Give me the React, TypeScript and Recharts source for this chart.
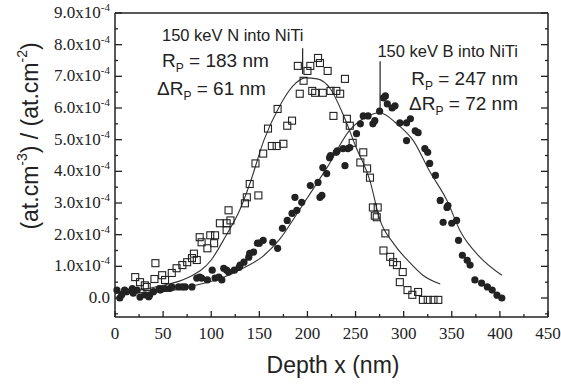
import React from "react";
import { ComposedChart, Line, ReferenceLine, Scatter, XAxis, YAxis } from "recharts";

// concentrations are in units of 1e-4 (tick labels add the x10^-4)
const nDepth = [21, 26, 31, 33, 41, 42, 49, 52, 59, 64, 70, 75, 80, 82, 85, 88, 90, 96, 99, 103, 104, 109, 116, 116, 118, 120, 135, 137, 140, 146, 149, 154, 159, 163, 168, 169, 175, 179, 184, 190, 192, 196, 200, 203, 205, 208, 211, 213, 216, 221, 224, 227, 230, 234, 239, 241, 244, 247, 255, 258, 262, 265, 268, 270, 272, 273, 279, 281, 286, 289, 293, 296, 299, 304, 309, 315, 320, 325, 331, 336];
const nConc = [0.66, 0.5, 0.4, 0.35, 0.6, 1.1, 0.72, 0.57, 0.79, 0.94, 1.04, 1.13, 1.26, 1.4, 1.2, 1.92, 1.76, 1.57, 1.98, 1.73, 1.98, 2.36, 2.36, 2.14, 2.77, 2.45, 2.99, 3.18, 3.6, 4.25, 3.24, 4.56, 5.35, 4.8, 4.8, 5.97, 4.87, 5.44, 5.6, 7.33, 6.45, 6.86, 7.17, 7.33, 6.54, 6.48, 7.58, 7.42, 6.48, 7.17, 6.54, 5.75, 6.54, 6.45, 6.92, 5.66, 5.44, 4.9, 4.28, 4.6, 4.09, 3.8, 2.86, 2.6, 2.55, 2.86, 1.5, 2.04, 1.3, 1.13, 1.04, 0.5, 0.82, 0.25, 0.1, 0.19, -0.06, -0.06, -0.06, -0.06];

const bDepth = [2, 5, 7, 10, 12, 18, 19, 23, 26, 31, 35, 36, 40, 46, 47, 52, 57, 59, 66, 70, 73, 80, 85, 88, 90, 96, 101, 104, 108, 111, 113, 116, 118, 124, 129, 130, 134, 139, 140, 144, 148, 150, 154, 164, 169, 174, 179, 184, 187, 189, 194, 203, 211, 213, 215, 216, 220, 223, 224, 230, 231, 237, 239, 242, 244, 251, 255, 258, 263, 268, 270, 275, 279, 281, 283, 288, 291, 296, 303, 303, 307, 312, 315, 322, 325, 327, 333, 338, 341, 345, 346, 350, 355, 357, 361, 366, 369, 374, 381, 387, 392, 397, 402];
const bConc = [0.25, 0.0, 0.1, 0.25, 0.2, 0.3, 0.15, 0.25, 0.03, 0.1, 0.04, 0.09, 0.2, 0.3, 0.25, 0.3, 0.3, 0.35, 0.35, 0.35, 0.35, 0.35, 0.63, 0.66, 0.63, 0.57, 0.88, 0.63, 0.66, 0.57, 0.94, 0.88, 0.82, 0.88, 0.97, 1.04, 1.13, 1.29, 1.41, 1.45, 1.73, 1.73, 1.82, 1.76, 1.57, 2.2, 2.45, 2.67, 3.18, 2.77, 3.02, 3.55, 3.65, 3.18, 3.24, 4.12, 3.93, 4.43, 4.5, 4.6, 4.65, 4.72, 4.18, 4.72, 4.75, 5.19, 5.5, 5.75, 5.75, 5.5, 5.6, 5.9, 6.32, 6.38, 6.13, 6.0, 6.07, 5.53, 5.53, 4.97, 5.66, 5.28, 5.22, 4.72, 4.6, 4.25, 3.87, 3.08, 2.39, 2.86, 2.92, 2.36, 2.45, 1.82, 1.35, 1.19, 1.04, 0.57, 0.47, 0.35, 0.25, 0.09, 0.0];

// fitted profiles
const nFitDepth = [0, 25, 50, 75, 100, 115, 130, 140, 155, 170, 185, 198, 210, 224, 237, 250, 265, 275, 290, 307, 320, 338];
const nFitConc = [0.2, 0.25, 0.4, 0.63, 1.2, 1.95, 2.8, 3.6, 5.0, 6.0, 6.7, 6.95, 6.92, 6.6, 5.8, 4.8, 3.7, 2.5, 1.7, 1.1, 0.72, 0.44];
const bFitDepth = [0, 50, 83, 111, 135, 153, 171, 190, 205, 220, 244, 260, 275, 293, 310, 327, 345, 359, 379, 402];
const bFitConc = [0.15, 0.2, 0.4, 0.63, 0.97, 1.3, 1.85, 2.7, 3.4, 4.1, 5.3, 5.7, 5.85, 5.5, 4.97, 4.0, 3.08, 2.1, 1.3, 0.72];

const xTicks = [0, 25, 50, 75, 100, 125, 150, 175, 200, 225, 250, 275, 300, 325, 350, 375, 400, 425, 450];
const yTicks = [-0.5, 0, 0.5, 1, 1.5, 2, 2.5, 3, 3.5, 4, 4.5, 5, 5.5, 6, 6.5, 7, 7.5, 8, 8.5, 9];

// Rp markers (depth, top, bottom)
const nMarker = [195, 7.89, 7.07];
const bMarker = [275.5, 7.48, 5.97];

const INK = "#222";
const SANS = "'Liberation Sans', Arial, sans-serif";
const SERIF = "'Liberation Serif', 'Times New Roman', serif";

const toPoints = (xs: number[], ys: number[]) => xs.map((x, i) => ({ x, y: ys[i] }));
const nPoints = toPoints(nDepth, nConc);
const bPoints = toPoints(bDepth, bConc);
const nFit = toPoints(nFitDepth, nFitConc);
const bFit = toPoints(bFitDepth, bFitConc);

const isMajorX = (v: number) => v % 50 === 0;
const isMajorY = (v: number) => Math.abs(v - Math.round(v)) < 1e-6;

const BottomTick = (props: any) => {
  const { x, y, payload } = props;
  const v = payload.value;
  return (
    <g>
      <line x1={x} y1={y} x2={x} y2={y - (isMajorX(v) ? 6 : 3)} stroke={INK} strokeWidth={1.3} />
      {isMajorX(v) && (
        <text x={x} y={y + 22} textAnchor="middle" fontFamily={SERIF} fontSize={17} fill={INK}>
          {v}
        </text>
      )}
    </g>
  );
};

const TopTick = (props: any) => {
  const { x, y, payload } = props;
  return <line x1={x} y1={y} x2={x} y2={y + (isMajorX(payload.value) ? 6 : 3)} stroke={INK} strokeWidth={1.3} />;
};

const LeftTick = (props: any) => {
  const { x, y, payload } = props;
  const v = payload.value;
  const major = isMajorY(v) && v >= 0;
  return (
    <g>
      <line x1={x} y1={y} x2={x + (isMajorY(v) ? 7 : 3)} y2={y} stroke={INK} strokeWidth={1.3} />
      {major && (
        <text x={x - 5} y={y + 5} textAnchor="end" fontFamily={SERIF} fontSize={17} fill={INK}>
          {v === 0 ? (
            "0.0"
          ) : (
            <>
              {`${v.toFixed(1)}x10`}
              <tspan dy={-7} fontSize={11}>-4</tspan>
            </>
          )}
        </text>
      )}
    </g>
  );
};

const RightTick = (props: any) => {
  const { x, y, payload } = props;
  return <line x1={x} y1={y} x2={x - (isMajorY(payload.value) ? 7 : 3)} y2={y} stroke={INK} strokeWidth={1.3} />;
};

const OpenSquare = (props: any) => (
  <rect x={props.cx - 3.5} y={props.cy - 3.5} width={7} height={7} fill="none" stroke={INK} strokeWidth={1.1} />
);
const Dot = (props: any) => <circle cx={props.cx} cy={props.cy} r={3.6} fill={INK} />;

const Rp = ({ delta, value }: { delta?: boolean; value: string }) => (
  <>
    {delta ? "\u0394R" : "R"}
    <tspan dy={5} fontSize={12}>P</tspan>
    <tspan dy={-5}>{` = ${value}`}</tspan>
  </>
);

export default function App() {
  return (
    <div style={{ position: "absolute", left: 0, top: 0, width: 561, height: 385, background: "#fff" }}>
      <ComposedChart width={561} height={385} margin={{ top: 8, right: 8, bottom: 38, left: 0 }}>
        <XAxis
          xAxisId={0}
          dataKey="x"
          type="number"
          domain={[0, 450]}
          ticks={xTicks}
          interval={0}
          tickSize={0}
          tickMargin={0}
          tickLine={false}
          tick={BottomTick}
          axisLine={{ stroke: INK, strokeWidth: 1.5 }}
          height={30}
        />
        <XAxis
          xAxisId="top"
          orientation="top"
          type="number"
          domain={[0, 450]}
          ticks={xTicks}
          interval={0}
          tickSize={0}
          tickMargin={0}
          tickLine={false}
          tick={TopTick}
          axisLine={{ stroke: INK, strokeWidth: 1.5 }}
          height={5}
        />
        <YAxis
          yAxisId={0}
          type="number"
          domain={[-0.6, 9]}
          ticks={yTicks}
          interval={0}
          tickSize={0}
          tickMargin={0}
          tickLine={false}
          tick={LeftTick}
          axisLine={{ stroke: INK, strokeWidth: 1.5 }}
          width={115}
          allowDataOverflow
        />
        <YAxis
          yAxisId="right"
          orientation="right"
          type="number"
          domain={[-0.6, 9]}
          ticks={yTicks}
          interval={0}
          tickSize={0}
          tickMargin={0}
          tickLine={false}
          tick={RightTick}
          axisLine={{ stroke: INK, strokeWidth: 1.5 }}
          width={5}
          allowDataOverflow
        />
        <Line data={nFit} dataKey="y" type="monotone" stroke="#333" strokeWidth={1.1} dot={false} isAnimationActive={false} />
        <Line data={bFit} dataKey="y" type="monotone" stroke="#333" strokeWidth={1.1} dot={false} isAnimationActive={false} />
        <Scatter data={nPoints} dataKey="y" shape={OpenSquare} isAnimationActive={false} />
        <Scatter data={bPoints} dataKey="y" shape={Dot} isAnimationActive={false} />
        <ReferenceLine
          segment={[{ x: nMarker[0], y: nMarker[1] }, { x: nMarker[0], y: nMarker[2] }]}
          stroke={INK}
          strokeWidth={1.2}
        />
        <ReferenceLine
          segment={[{ x: bMarker[0], y: bMarker[1] }, { x: bMarker[0], y: bMarker[2] }]}
          stroke={INK}
          strokeWidth={1.2}
        />
        <g fontFamily={SANS} fill={INK}>
          <text x={162} y={41} fontSize={16.5}>150 keV N into NiTi</text>
          <text x={162} y={67} fontSize={19}><Rp value="183 nm" /></text>
          <text x={157} y={95} fontSize={19}><Rp delta value="61 nm" /></text>
          <text x={518} y={57} fontSize={16.5} textAnchor="end">150 keV B into NiTi</text>
          <text x={518} y={85} fontSize={19} textAnchor="end"><Rp value="247 nm" /></text>
          <text x={518} y={110} fontSize={19} textAnchor="end"><Rp delta value="72 nm" /></text>
          <text x={333} y={373} fontSize={23} textAnchor="middle">Depth x (nm)</text>
          <text x={30} y={136} fontSize={23} textAnchor="middle" dominantBaseline="central" transform="rotate(-90 30 136)">
            (at.cm<tspan dy={-8} fontSize={14}>-3</tspan>
            <tspan dy={8}>) / (at.cm</tspan>
            <tspan dy={-8} fontSize={14}>-2</tspan>
            <tspan dy={8}>)</tspan>
          </text>
        </g>
      </ComposedChart>
    </div>
  );
}
